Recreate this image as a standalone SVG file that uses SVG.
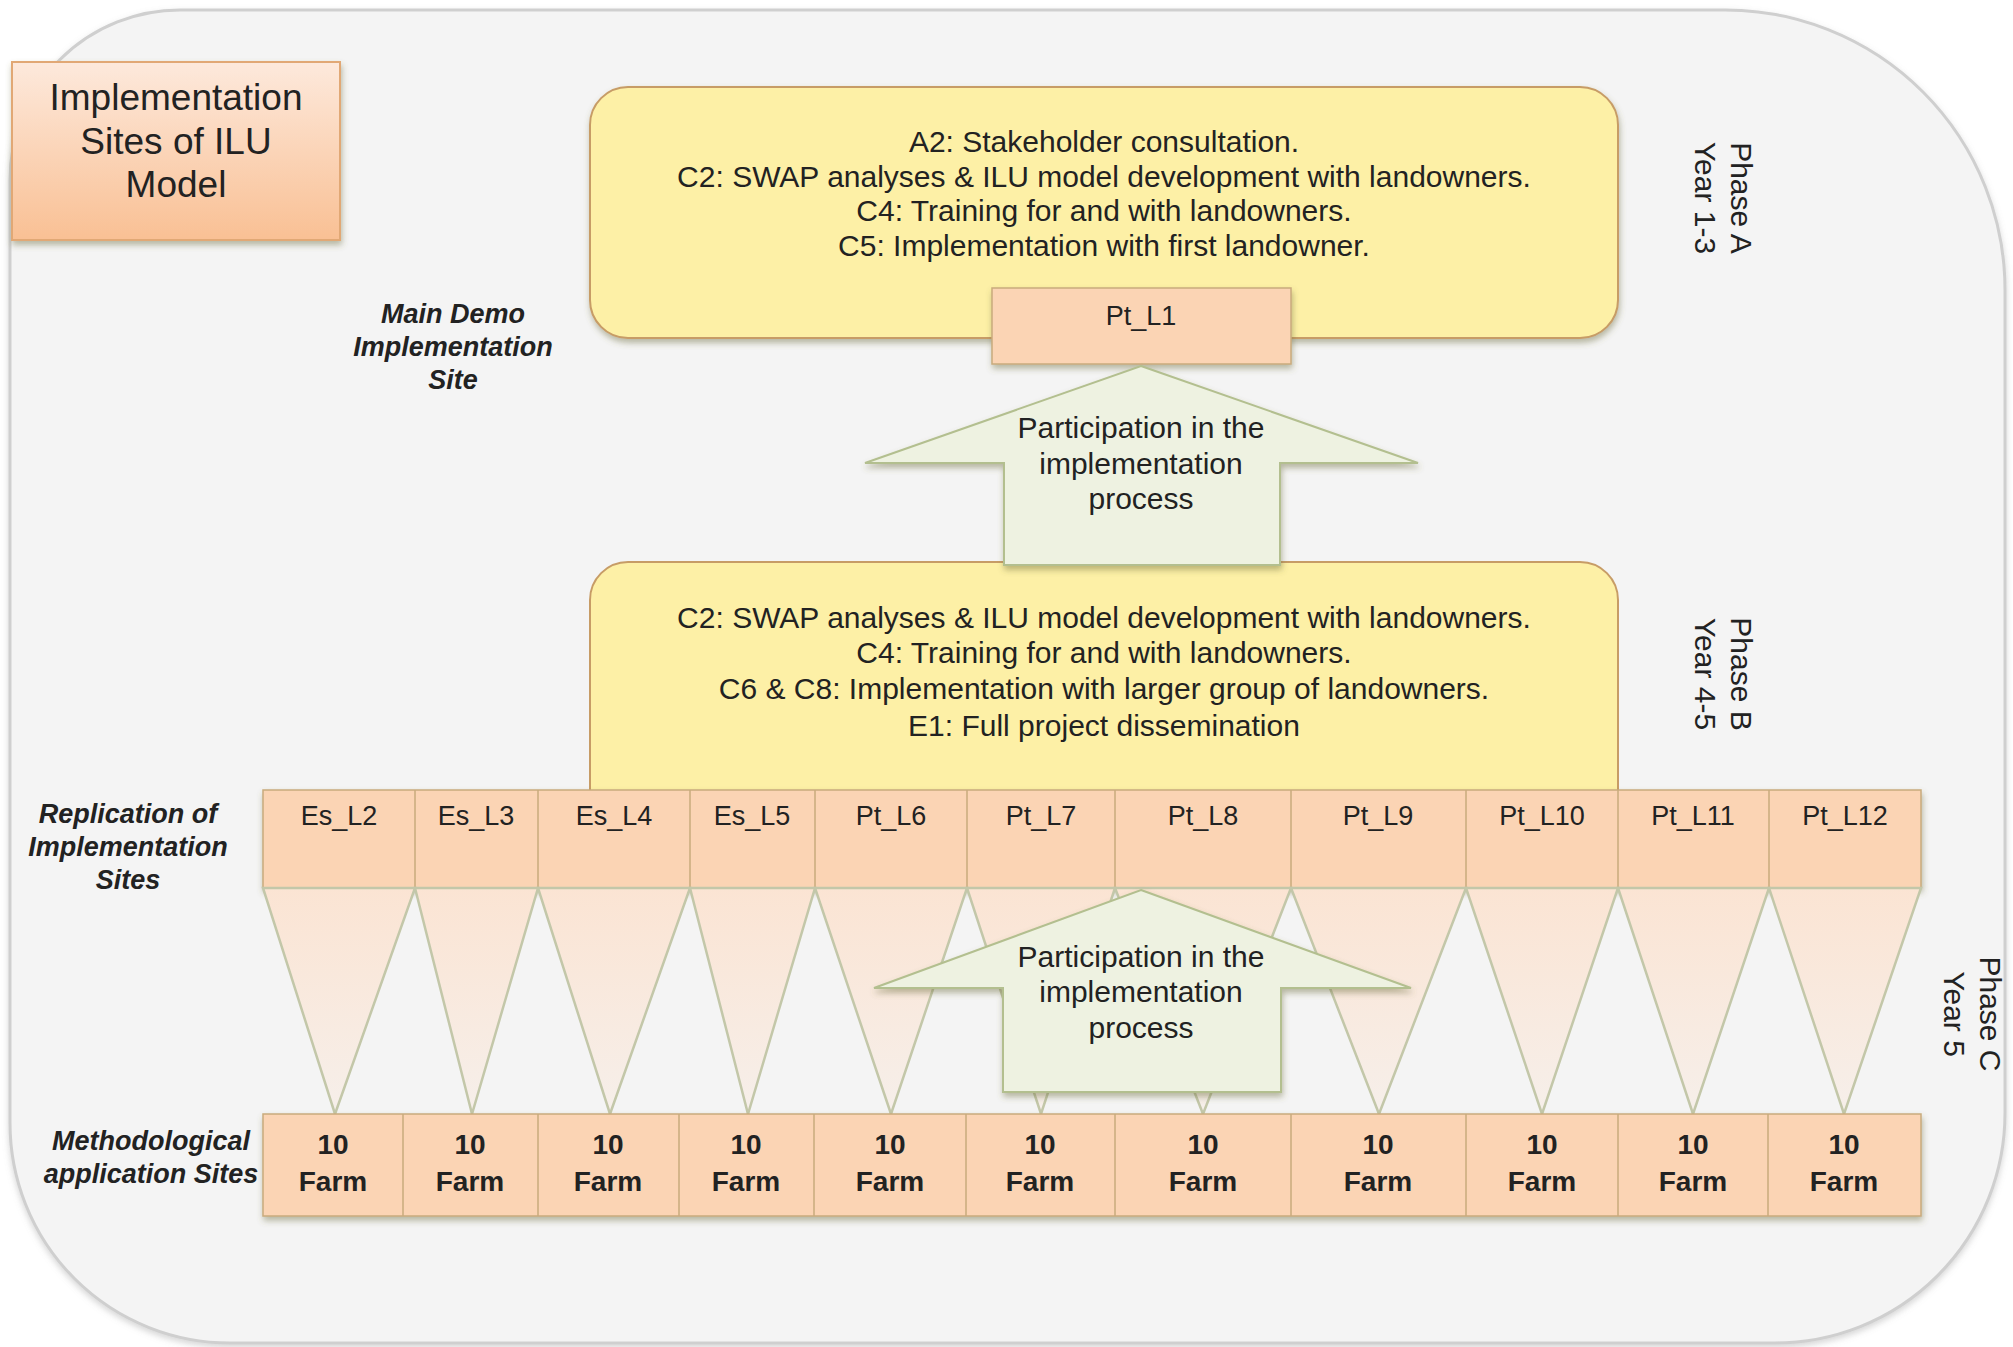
<svg xmlns="http://www.w3.org/2000/svg" width="2013" height="1347" viewBox="0 0 2013 1347">
<defs>
<linearGradient id="gTitle" x1="0" y1="0" x2="0" y2="1">
<stop offset="0" stop-color="#fde9dc"/><stop offset="1" stop-color="#f9c094"/>
</linearGradient>
<linearGradient id="gTri" x1="0" y1="0" x2="0" y2="1">
<stop offset="0" stop-color="#fbe4d3"/><stop offset="1" stop-color="#f6efea"/>
</linearGradient>
<filter id="sh" x="-10%" y="-10%" width="120%" height="130%">
<feDropShadow dx="1" dy="4" stdDeviation="3" flood-color="#6b6b3a" flood-opacity="0.45"/>
</filter>
<filter id="shl" x="-10%" y="-10%" width="120%" height="130%">
<feDropShadow dx="0" dy="3" stdDeviation="3" flood-color="#888" flood-opacity="0.35"/>
</filter>
</defs>
<style>
.t{font-family:"Liberation Sans",Arial,sans-serif;fill:#222;text-anchor:middle}
.big{font-size:37px}
.box{font-size:30px}
.site{font-size:27px}
.farm{font-size:28px;font-weight:bold}
.lab{font-size:27px;font-weight:bold;font-style:italic}
.ph{font-size:30px}
.yel{fill:#fdf0a6;stroke:#c79c66;stroke-width:2}
.pch{fill:#fbd4b4;stroke:#c9ab7c;stroke-width:1.5}
.arr{fill:#eef2e1;stroke:#b3bf8f;stroke-width:2}
.tri{fill:url(#gTri);stroke:#c3c7a9;stroke-width:2.5}
</style>
<rect width="2013" height="1347" fill="#ffffff"/>
<g id="background">
<path d="M180 10 H1725 A280 280 0 0 1 2005 290 V1113 A230 230 0 0 1 1775 1343 H230 A220 220 0 0 1 10 1123 V180 A170 170 0 0 1 180 10 Z" fill="#f4f4f4" stroke="#cfcfcf" stroke-width="3" filter="url(#shl)"/>
</g>
<g id="title">
<rect x="12" y="62" width="328" height="178" fill="url(#gTitle)" stroke="#e1a875" stroke-width="2" filter="url(#sh)"/>
<text class="t big" x="176" y="110">Implementation</text>
<text class="t big" x="176" y="154">Sites of ILU</text>
<text class="t big" x="176" y="197">Model</text>
</g>
<g id="label-main-demo">
<text class="t lab" x="453" y="323">Main Demo</text>
<text class="t lab" x="453" y="356">Implementation</text>
<text class="t lab" x="453" y="389">Site</text>
</g>
<g id="label-replication">
<text class="t lab" x="128" y="823">Replication of</text>
<text class="t lab" x="128" y="856">Implementation</text>
<text class="t lab" x="128" y="889">Sites</text>
</g>
<g id="label-methodological">
<text class="t lab" x="151" y="1150">Methodological</text>
<text class="t lab" x="151" y="1183">application Sites</text>
</g>
<g id="phase-a">
<rect x="590" y="87" width="1028" height="251" rx="38" class="yel" filter="url(#sh)"/>
<text class="t box" x="1104" y="152">A2: Stakeholder consultation.</text>
<text class="t box" x="1104" y="187">C2: SWAP analyses &amp; ILU model development with landowners.</text>
<text class="t box" x="1104" y="221">C4: Training for and with landowners.</text>
<text class="t box" x="1104" y="256">C5: Implementation with first landowner.</text>
</g>
<g id="pt-l1">
<rect x="992" y="288" width="299" height="76" class="pch" filter="url(#sh)"/>
<text class="t site" x="1141" y="325">Pt_L1</text>
</g>
<g id="phase-b">
<rect x="590" y="562" width="1028" height="270" rx="38" class="yel"/>
<text class="t box" x="1104" y="628">C2: SWAP analyses &amp; ILU model development with landowners.</text>
<text class="t box" x="1104" y="663">C4: Training for and with landowners.</text>
<text class="t box" x="1104" y="699">C6 &amp; C8: Implementation with larger group of landowners.</text>
<text class="t box" x="1104" y="736">E1: Full project dissemination</text>
</g>
<g id="phase-labels">
<g transform="translate(1731 198) rotate(90)"><text class="t ph" x="0" y="0">Phase A</text><text class="t ph" x="0" y="36">Year 1-3</text></g>
<g transform="translate(1731 674) rotate(90)"><text class="t ph" x="0" y="0">Phase B</text><text class="t ph" x="0" y="36">Year 4-5</text></g>
<g transform="translate(1980 1014) rotate(90)"><text class="t ph" x="0" y="0">Phase C</text><text class="t ph" x="0" y="36">Year 5</text></g>
</g>
<g id="replication-sites">
<rect x="263" y="790" width="1658" height="98" class="pch" filter="url(#sh)"/>
<g stroke="#c9ab7c" stroke-width="1.5">
<line x1="415" y1="790" x2="415" y2="888"/><line x1="538" y1="790" x2="538" y2="888"/><line x1="690" y1="790" x2="690" y2="888"/><line x1="815" y1="790" x2="815" y2="888"/><line x1="967" y1="790" x2="967" y2="888"/><line x1="1115" y1="790" x2="1115" y2="888"/><line x1="1291" y1="790" x2="1291" y2="888"/><line x1="1466" y1="790" x2="1466" y2="888"/><line x1="1618" y1="790" x2="1618" y2="888"/><line x1="1769" y1="790" x2="1769" y2="888"/>
</g>
<text class="t site" x="339" y="825">Es_L2</text>
<text class="t site" x="476" y="825">Es_L3</text>
<text class="t site" x="614" y="825">Es_L4</text>
<text class="t site" x="752" y="825">Es_L5</text>
<text class="t site" x="891" y="825">Pt_L6</text>
<text class="t site" x="1041" y="825">Pt_L7</text>
<text class="t site" x="1203" y="825">Pt_L8</text>
<text class="t site" x="1378" y="825">Pt_L9</text>
<text class="t site" x="1542" y="825">Pt_L10</text>
<text class="t site" x="1693" y="825">Pt_L11</text>
<text class="t site" x="1845" y="825">Pt_L12</text>
</g>
<g id="connectors">
<g class="tri">
<polygon points="263,888 415,888 335,1114"/>
<polygon points="415,888 538,888 472,1114"/>
<polygon points="538,888 690,888 610,1114"/>
<polygon points="690,888 815,888 748,1114"/>
<polygon points="815,888 967,888 891,1114"/>
<polygon points="967,888 1115,888 1041,1114"/>
<polygon points="1115,888 1291,888 1203,1114"/>
<polygon points="1291,888 1466,888 1379,1114"/>
<polygon points="1466,888 1618,888 1542,1114"/>
<polygon points="1618,888 1769,888 1693,1114"/>
<polygon points="1769,888 1921,888 1844,1114"/>
</g>
<g id="arrow-upper" filter="url(#sh)">
<polygon class="arr" points="1141,366 1418,463 1280,463 1280,565 1004,565 1004,463 865,463"/>
</g>
<text class="t box" x="1141" y="438">Participation in the</text>
<text class="t box" x="1141" y="474">implementation</text>
<text class="t box" x="1141" y="509">process</text>
<g id="arrow-lower" filter="url(#sh)">
<polygon class="arr" points="1141,890 1411,988 1281,988 1281,1092 1003,1092 1003,988 874,988"/>
</g>
<text class="t box" x="1141" y="967">Participation in the</text>
<text class="t box" x="1141" y="1002">implementation</text>
<text class="t box" x="1141" y="1038">process</text>
</g>
<g id="farm-sites">
<rect x="263" y="1114" width="1658" height="102" class="pch" filter="url(#sh)"/>
<g stroke="#c9ab7c" stroke-width="1.5">
<line x1="403" y1="1114" x2="403" y2="1216"/><line x1="538" y1="1114" x2="538" y2="1216"/><line x1="679" y1="1114" x2="679" y2="1216"/><line x1="814" y1="1114" x2="814" y2="1216"/><line x1="966" y1="1114" x2="966" y2="1216"/><line x1="1115" y1="1114" x2="1115" y2="1216"/><line x1="1291" y1="1114" x2="1291" y2="1216"/><line x1="1466" y1="1114" x2="1466" y2="1216"/><line x1="1618" y1="1114" x2="1618" y2="1216"/><line x1="1768" y1="1114" x2="1768" y2="1216"/>
</g>
<g class="t farm">
<text x="333" y="1154">10</text><text x="333" y="1191">Farm</text>
<text x="470" y="1154">10</text><text x="470" y="1191">Farm</text>
<text x="608" y="1154">10</text><text x="608" y="1191">Farm</text>
<text x="746" y="1154">10</text><text x="746" y="1191">Farm</text>
<text x="890" y="1154">10</text><text x="890" y="1191">Farm</text>
<text x="1040" y="1154">10</text><text x="1040" y="1191">Farm</text>
<text x="1203" y="1154">10</text><text x="1203" y="1191">Farm</text>
<text x="1378" y="1154">10</text><text x="1378" y="1191">Farm</text>
<text x="1542" y="1154">10</text><text x="1542" y="1191">Farm</text>
<text x="1693" y="1154">10</text><text x="1693" y="1191">Farm</text>
<text x="1844" y="1154">10</text><text x="1844" y="1191">Farm</text>
</g>
</g>
</svg>
